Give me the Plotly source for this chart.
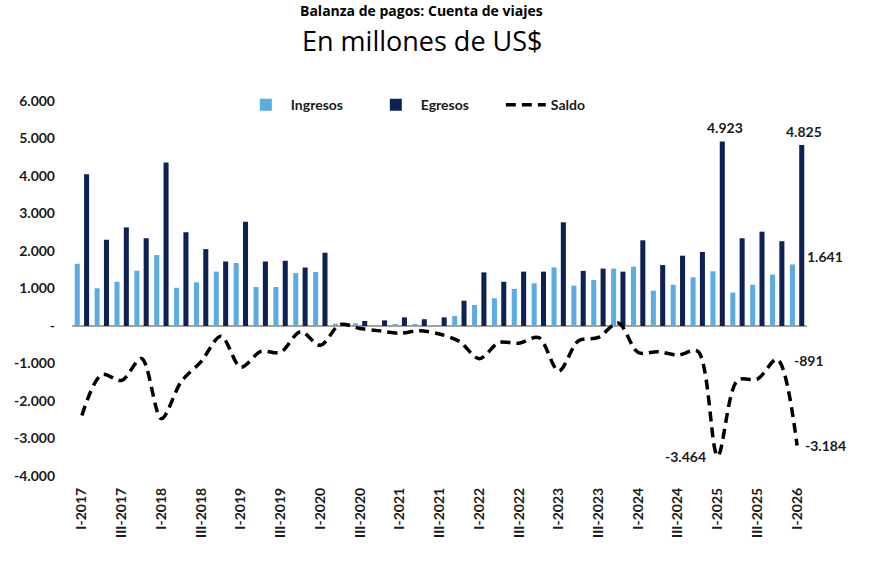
import plotly.graph_objects as go

quarters = [
    "I-2017", "II-2017", "III-2017", "IV-2017",
    "I-2018", "II-2018", "III-2018", "IV-2018",
    "I-2019", "II-2019", "III-2019", "IV-2019",
    "I-2020", "II-2020", "III-2020", "IV-2020",
    "I-2021", "II-2021", "III-2021", "IV-2021",
    "I-2022", "II-2022", "III-2022", "IV-2022",
    "I-2023", "II-2023", "III-2023", "IV-2023",
    "I-2024", "II-2024", "III-2024", "IV-2024",
    "I-2025", "II-2025", "III-2025", "IV-2025",
    "I-2026",
]

ingresos = [1660, 1005, 1180, 1475, 1890, 1020, 1165, 1450, 1680, 1040, 1040, 1410, 1440,
            60, 70, 20, 35, 55, 15, 265, 560, 740, 990, 1140, 1565, 1075, 1225, 1530,
            1580, 940, 1100, 1300, 1459, 890, 1100, 1370, 1641]
egresos = [4045, 2300, 2630, 2340, 4360, 2500, 2050, 1720, 2780, 1720, 1740, 1560, 1955,
           20, 135, 150, 230, 180, 230, 675, 1430, 1180, 1450, 1450, 2765, 1470, 1530, 1450,
           2285, 1625, 1875, 1975, 4923, 2340, 2515, 2261, 4825]
saldo = [-2385, -1295, -1450, -865, -2470, -1480, -950, -270, -1100, -680, -700, -150, -515,
         40, -65, -130, -195, -125, -215, -410, -870, -440, -460, -310, -1200, -395, -305, 80,
         -705, -685, -775, -675, -3464, -1450, -1415, -891, -3184]

xtick_labels = quarters[::2]
ytick_vals = [-4000, -3000, -2000, -1000, 0, 1000, 2000, 3000, 4000, 5000, 6000]
ytick_text = ["-4.000", "-3.000", "-2.000", "-1.000", "-", "1.000", "2.000", "3.000",
              "4.000", "5.000", "6.000"]

title_text = "Balanza de pagos: Cuenta de viajes"
subtitle_text = "En millones de US$"

C_ING = "#5BACE0"
C_EGR = "#0E2155"
FONT = "Lato"
TXT = "#1a1a1a"


def fmt(v):
    return f"{v:,}".replace(",", ".")


fig = go.Figure()
fig.add_trace(go.Bar(x=quarters, y=ingresos, name="Ingresos",
                     marker=dict(color=C_ING, line=dict(width=0))))
fig.add_trace(go.Bar(x=quarters, y=egresos, name="Egresos",
                     marker=dict(color=C_EGR, line=dict(width=0))))
fig.add_trace(go.Scatter(x=quarters, y=saldo, name="Saldo", mode="lines",
                         line=dict(color="black", width=3.5, dash="10px,6px",
                                   shape="spline", smoothing=0.9)))

lab_font = dict(family=FONT, size=14, color=TXT, weight="bold")
annotations = [
    dict(x=quarters[32], y=egresos[32], text=fmt(egresos[32]), xref="x", yref="y",
         showarrow=False, xanchor="center", yanchor="bottom", xshift=7, yshift=3,
         font=lab_font),
    dict(x=quarters[36], y=egresos[36], text=fmt(egresos[36]), xref="x", yref="y",
         showarrow=False, xanchor="center", yanchor="bottom", xshift=7, yshift=3,
         font=lab_font),
    dict(x=quarters[36], y=ingresos[36], text=fmt(ingresos[36]), xref="x", yref="y",
         showarrow=False, xanchor="left", yanchor="middle", xshift=8, yshift=8,
         font=lab_font),
    dict(x=quarters[35], y=saldo[35], text=fmt(saldo[35]), xref="x", yref="y",
         showarrow=False, xanchor="left", yanchor="middle", xshift=15, yshift=-1,
         font=lab_font),
    dict(x=quarters[32], y=saldo[32], text=fmt(saldo[32]), xref="x", yref="y",
         showarrow=False, xanchor="right", yanchor="middle", xshift=-10, yshift=-1,
         font=lab_font),
    dict(x=quarters[36], y=saldo[36], text=fmt(saldo[36]), xref="x", yref="y",
         showarrow=False, xanchor="left", yanchor="middle", xshift=6, yshift=0,
         font=lab_font),
    dict(x=0.476, y=1.0, xref="paper", yref="paper", text=title_text, showarrow=False,
         xanchor="center", yanchor="middle", yshift=101 - 10,
         font=dict(family="Open Sans", size=14, color="black", weight="bold")),
    dict(x=0.476, y=1.0, xref="paper", yref="paper", text=subtitle_text, showarrow=False,
         xanchor="center", yanchor="middle", yshift=101 - 40,
         font=dict(family="Open Sans", size=27, color="black")),
]

fig.update_layout(
    width=870, height=580,
    margin=dict(l=72, r=63, t=101, b=104),
    paper_bgcolor="white", plot_bgcolor="white",
    barmode="group", bargap=0.06, bargroupgap=0.46,
    font=dict(family=FONT, color=TXT),
    legend=dict(orientation="h", x=0.495, xanchor="center", y=0.989, yanchor="middle",
                font=dict(family=FONT, size=14, color=TXT, weight="bold"),
                bgcolor="rgba(0,0,0,0)", itemwidth=40, entrywidth=75,
                traceorder="normal"),
    annotations=annotations,
    showlegend=True,
)
fig.update_xaxes(type="category", range=[-0.5, 36.5], tickmode="array",
                 tickvals=xtick_labels, ticktext=xtick_labels, tickangle=-90,
                 showgrid=False, showline=False, ticks="", ticklabelstandoff=8,
                 tickfont=dict(family=FONT, size=14, color=TXT, weight="bold"))
fig.update_yaxes(range=[-4000, 6000], tickmode="array", tickvals=ytick_vals,
                 ticktext=ytick_text, showgrid=False, showline=False,
                 zeroline=True, zerolinecolor="#A3A3A3", zerolinewidth=1.5,
                 ticks="", ticklabelstandoff=16,
                 tickfont=dict(family=FONT, size=14, color=TXT, weight="bold"))

fig.write_html("out.html")
